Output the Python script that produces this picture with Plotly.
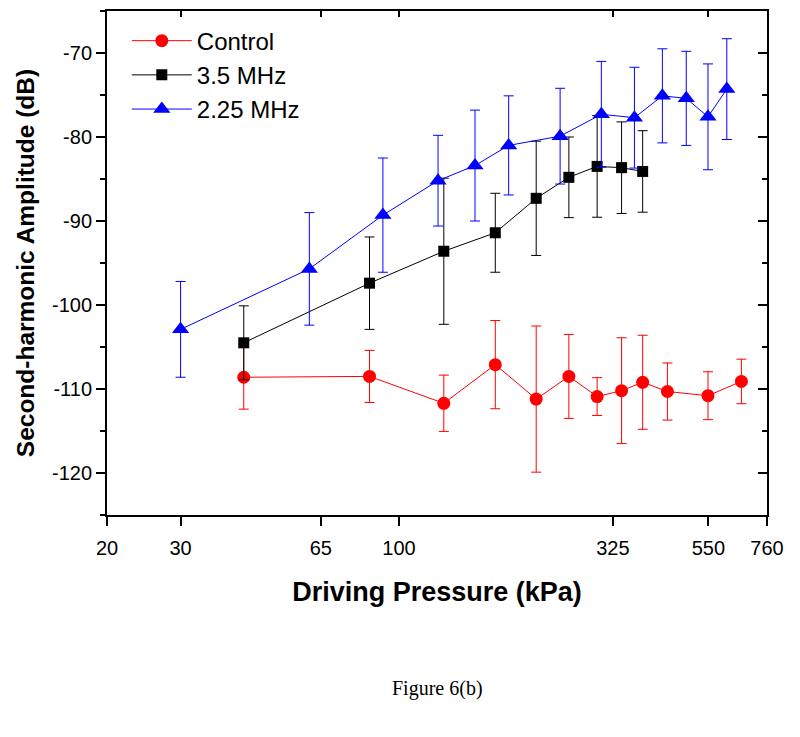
import math
import plotly.graph_objects as go

# ---- data ----
ctrl_x = [42.5, 85, 128, 170, 213, 255, 298, 341, 383, 439, 549, 660]
ctrl_y = [-108.6, -108.5, -111.7, -107.1, -111.2, -108.5, -110.9, -110.2, -109.2, -110.3, -110.8, -109.1]
ctrl_err = [3.8, 3.1, 3.35, 5.25, 8.7, 5.0, 2.25, 6.3, 5.6, 3.4, 2.85, 2.65]

mhz35_x = [42.5, 85, 128, 170, 213, 255, 298, 341, 383]
mhz35_y = [-104.5, -97.4, -93.6, -91.4, -87.3, -84.8, -83.5, -83.65, -84.1]
mhz35_err = [4.4, 5.5, 8.7, 4.7, 6.8, 4.8, 6.05, 5.45, 4.85]

mhz225_x = [30, 61, 91.5, 124, 152, 183, 243, 305, 366, 427, 487, 549, 609]
mhz225_y = [-102.9, -95.7, -89.3, -85.2, -83.4, -81.0, -79.9, -77.3, -77.7, -75.1, -75.4, -77.6, -74.3]
mhz225_err = [5.7, 6.7, 6.8, 5.4, 6.6, 5.9, 5.7, 6.3, 6.0, 5.6, 5.6, 6.3, 6.0]

x_ticks = [20, 30, 65, 100, 325, 550, 760]
x_ticktext = ["20", "30", "65", "100", "325", "550", "760"]
y_ticks = [-70, -80, -90, -100, -110, -120]
y_ticktext = ["-70", "-80", "-90", "-100", "-110", "-120"]
x_range = [20, 760]
y_range = [-125, -65]

xr = [math.log10(x_range[0]), math.log10(x_range[1])]

fig = go.Figure()

def add(x, y, err, name, color, symbol, size):
    fig.add_trace(go.Scatter(
        x=x, y=y, name=name, mode="lines+markers",
        line=dict(color=color, width=1),
        marker=dict(color=color, symbol=symbol, size=size, line=dict(width=0)),
        error_y=dict(type="data", array=err, visible=True, color=color,
                     thickness=1, width=5),
    ))

add(ctrl_x, ctrl_y, ctrl_err, "Control", "#FF0000", "circle", 13)
add(mhz35_x, mhz35_y, mhz35_err, "3.5 MHz", "#000000", "square", 11)
add(mhz225_x, mhz225_y, mhz225_err, "2.25 MHz", "#0000FF", "triangle-up", 15)

FONT = "Liberation Sans, Arial, sans-serif"
axis_font = dict(family=FONT, size=20, color="black")

fig.update_layout(
    width=800, height=737,
    margin=dict(l=99, r=41, t=1, b=230),
    paper_bgcolor="white", plot_bgcolor="white",
    showlegend=True,
    legend=dict(x=0.03, y=0.985, xanchor="left", yanchor="top",
                font=dict(family=FONT, size=24, color="black"),
                bgcolor="rgba(0,0,0,0)", itemwidth=60, tracegroupgap=0),
    xaxis=dict(type="log", range=xr, tickvals=x_ticks, ticktext=x_ticktext,
               ticks="outside", ticklen=9, tickwidth=2, tickcolor="black",
               ticklabelstandoff=5,
               showline=True, linecolor="black", linewidth=2, mirror=True,
               showgrid=False, zeroline=False, tickfont=axis_font,
               title=dict(text="<b>Driving Pressure (kPa)</b>",
                          font=dict(family=FONT, size=27, color="black"),
                          standoff=24)),
    yaxis=dict(range=y_range, tickvals=y_ticks, ticktext=y_ticktext,
               ticks="outside", ticklen=9, tickwidth=2, tickcolor="black",
               minor=dict(dtick=5, tick0=-125, ticks="outside", ticklen=5, tickwidth=2, tickcolor="black"),
               showline=True, linecolor="black", linewidth=2, mirror=True,
               showgrid=False, zeroline=False, tickfont=axis_font,
               title=dict(text="<b>Second-harmonic Amplitude (dB)</b>",
                          font=dict(family=FONT, size=24.5, color="black"),
                          standoff=10)),
    # overlay axes to draw inward-pointing ticks on the top and right edges
    xaxis2=dict(type="log", range=xr, tickvals=x_ticks, showticklabels=False,
                ticks="inside", ticklen=6, tickwidth=2, tickcolor="black",
                overlaying="x", side="top", showgrid=False, zeroline=False, showline=False),
    yaxis2=dict(range=y_range, tickvals=y_ticks, showticklabels=False,
                ticks="inside", ticklen=9, tickwidth=2, tickcolor="black",
                minor=dict(dtick=5, tick0=-125, ticks="inside", ticklen=5, tickwidth=2, tickcolor="black"),
                overlaying="y", side="right", showgrid=False, zeroline=False, showline=False),
)

# invisible trace to activate the overlay axes
fig.add_trace(go.Scatter(x=[x_range[0]], y=[y_range[0]], xaxis="x2", yaxis="y2",
                         mode="markers", marker=dict(opacity=0), showlegend=False,
                         hoverinfo="skip"))

fig.add_annotation(text="Figure 6(b)", xref="paper", yref="paper", x=0.5, y=-0.345,
                   xanchor="center", yanchor="middle", showarrow=False,
                   font=dict(family="Liberation Serif, Times New Roman, serif", size=20, color="black"))

fig.write_html("out.html")
